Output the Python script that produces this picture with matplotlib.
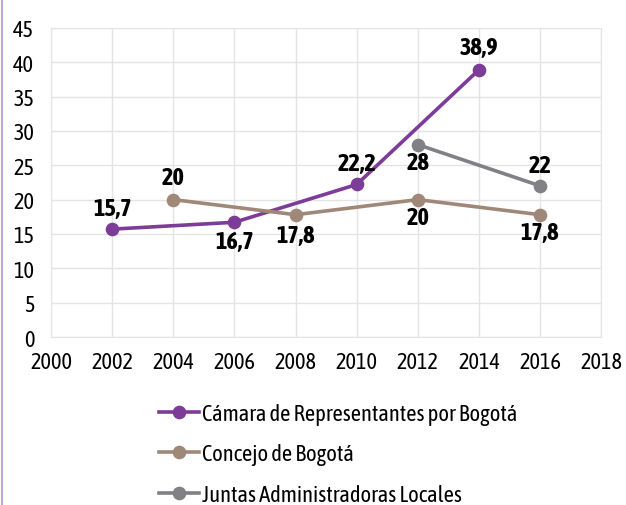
import matplotlib.pyplot as plt
from matplotlib.lines import Line2D

plt.rcParams['font.family'] = ['Asap Condensed', 'DejaVu Sans']

# Data
camara_years = [2002, 2006, 2010, 2014]
camara_vals = [15.7, 16.7, 22.2, 38.9]
concejo_years = [2004, 2008, 2012, 2016]
concejo_vals = [20, 17.8, 20, 17.8]
jal_years = [2012, 2016]
jal_vals = [28, 22]

camara_labels = ['15,7', '16,7', '22,2', '38,9']
concejo_labels = ['20', '17,8', '20', '17,8']
jal_labels = ['28', '22']

purple = '#7d3c98'
brown = '#a08878'
gray = '#808085'

fig = plt.figure(figsize=(6.26, 5.06), dpi=100)
ax = fig.add_axes([0.0815, 0.332, 0.879, 0.611])

line_kw = dict(lw=2.6, marker='o', ms=8.8, zorder=3)
ax.plot(camara_years, camara_vals, color=purple,
        label='Cámara de Representantes por Bogotá', **line_kw)
ax.plot(concejo_years, concejo_vals, color=brown,
        label='Concejo de Bogotá', **line_kw)
ax.plot(jal_years, jal_vals, color=gray,
        label='Juntas Administradoras Locales', **line_kw)

# Data labels (offset in points: above / below)
lab_kw = dict(ha='center', va='center', fontsize=17.5, fontweight='bold', color='black')
cam_off = [15, -14, 15, 16]
for x, y, t, o in zip(camara_years, camara_vals, camara_labels, cam_off):
    ax.annotate(t, (x, y), xytext=(0, o), textcoords='offset points', **lab_kw)
con_off = [16, -15, -13, -13]
for x, y, t, o in zip(concejo_years, concejo_vals, concejo_labels, con_off):
    ax.annotate(t, (x, y), xytext=(0, o), textcoords='offset points', **lab_kw)
jal_off = [-13, 15]
for x, y, t, o in zip(jal_years, jal_vals, jal_labels, jal_off):
    ax.annotate(t, (x, y), xytext=(0, o), textcoords='offset points', **lab_kw)

ax.set_xlim(2000, 2018)
ax.set_ylim(0, 45)
ax.set_xticks(range(2000, 2019, 2))
ax.set_yticks(range(0, 46, 5))
ax.grid(True, color='#e4e4e4', lw=1)
ax.set_axisbelow(True)
for s in ax.spines.values():
    s.set_color('#e4e4e4')
ax.tick_params(length=0, labelsize=16)
ax.tick_params(axis='x', pad=10)
ax.tick_params(axis='y', pad=12)

fig.legend(loc='upper left', bbox_to_anchor=(0.24, 0.22), frameon=False,
           fontsize=16.2, handlelength=1.78, handletextpad=0.12, labelspacing=0.83,
           borderaxespad=0)

# left purple border
fig.add_artist(Line2D([0.003, 0.003], [0, 1], color='#c3a3d8', lw=1.5,
                      transform=fig.transFigure))

fig.savefig('out.png', dpi=100)
